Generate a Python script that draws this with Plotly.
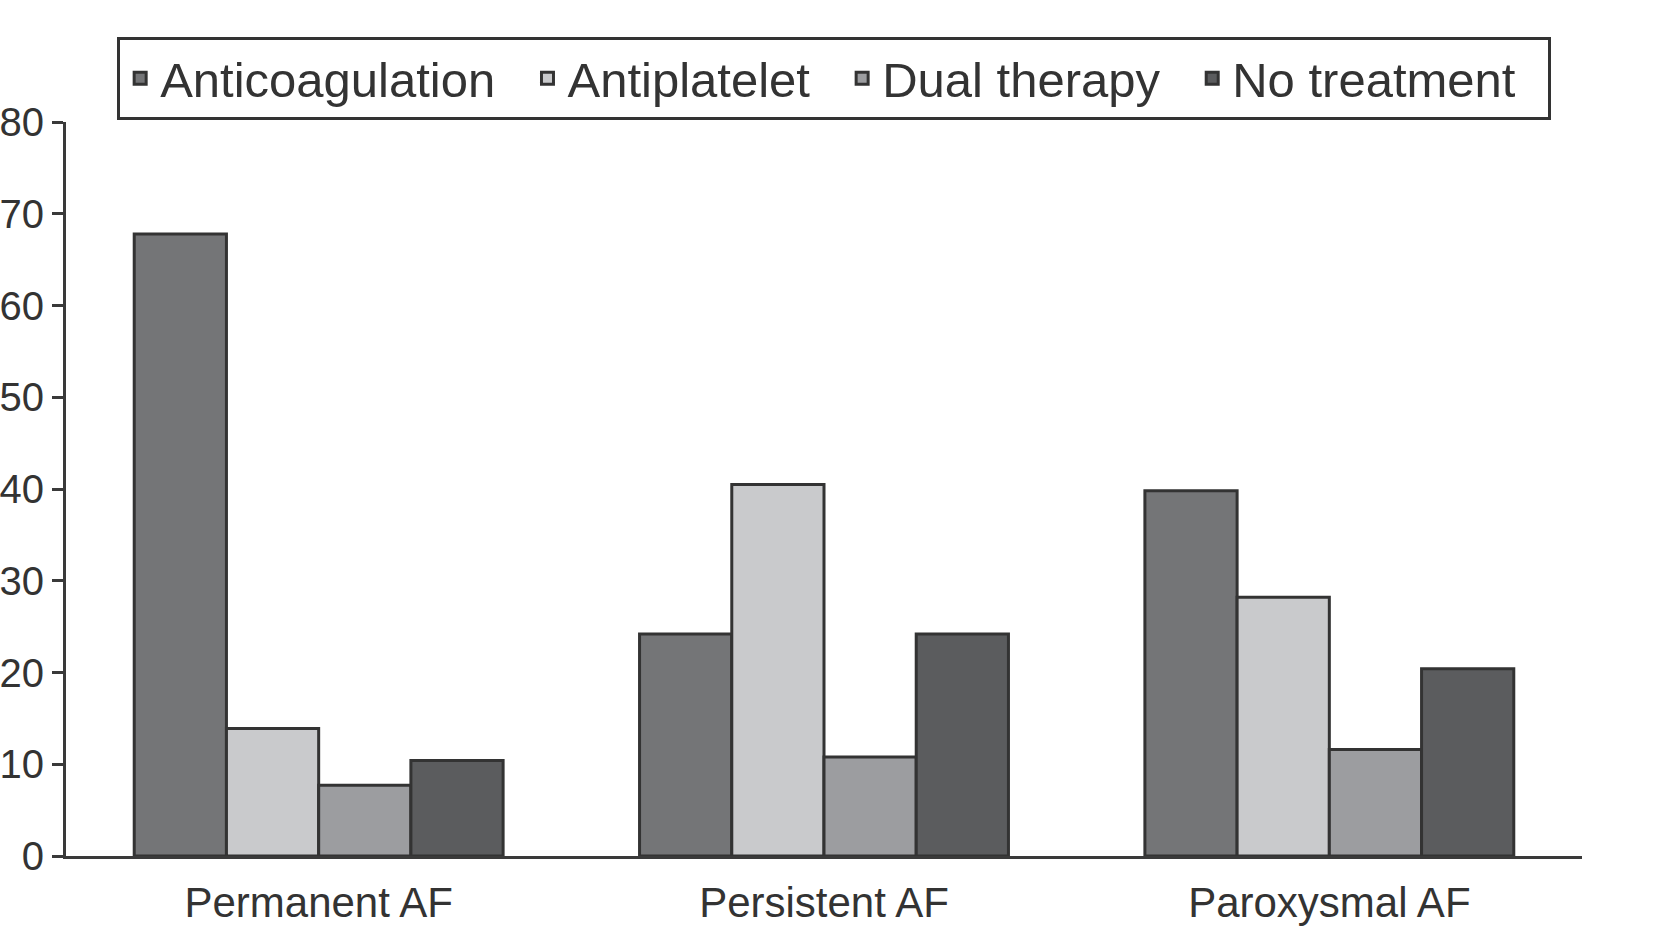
import plotly.graph_objects as go

categories = ["Permanent AF", "Persistent AF", "Paroxysmal AF"]
series_names = ["Anticoagulation", "Antiplatelet", "Dual therapy", "No treatment"]
anticoagulation = [67.8, 24.2, 39.8]
antiplatelet = [13.9, 40.5, 28.2]
dual_therapy = [7.7, 10.8, 11.6]
no_treatment = [10.4, 24.2, 20.4]
y_ticks = [0, 10, 20, 30, 40, 50, 60, 70, 80]

colors = ["#747577", "#c9cacc", "#9c9da0", "#5b5c5e"]
values = [anticoagulation, antiplatelet, dual_therapy, no_treatment]

fig = go.Figure()
for name, vals, col in zip(series_names, values, colors):
    fig.add_trace(go.Bar(
        x=categories, y=vals, name=name + "\u00a0\u00a0",
        marker=dict(color=col, line=dict(color="#333333", width=3)),
    ))

fig.update_layout(
    template="none",
    width=1667, height=928,
    margin=dict(l=66, r=85, t=122, b=72, autoexpand=False),
    paper_bgcolor="white", plot_bgcolor="white",
    barmode="group", bargap=0.27, bargroupgap=0,
    font=dict(family="Liberation Sans, Arial, sans-serif", color="#333333"),
    showlegend=True,
    legend=dict(
        orientation="h", x=0.5067, xanchor="center", y=1.0593, yanchor="middle",
        font=dict(size=49, color="#333333"),
        bordercolor="#333333", borderwidth=3, bgcolor="white",
        traceorder="normal",
    ),
    xaxis=dict(
        showline=True, linecolor="#3a3a3a", linewidth=3, automargin=False,
        ticks="", tickfont=dict(size=42, color="#333333"),
        ticklabelstandoff=8, showgrid=False, zeroline=False,
        range=[-0.5, 2.5],
    ),
    yaxis=dict(
        range=[0, 80], tickvals=y_ticks, automargin=False,
        showline=True, linecolor="#3a3a3a", linewidth=3,
        ticks="outside", ticklen=11, tickwidth=3, tickcolor="#3a3a3a",
        tickfont=dict(size=40, color="#333333"),
        showgrid=False, zeroline=False,
    ),
)

fig.write_html("out.html", config={"displayModeBar": False},
               post_script="document.body.style.margin='0px';")
